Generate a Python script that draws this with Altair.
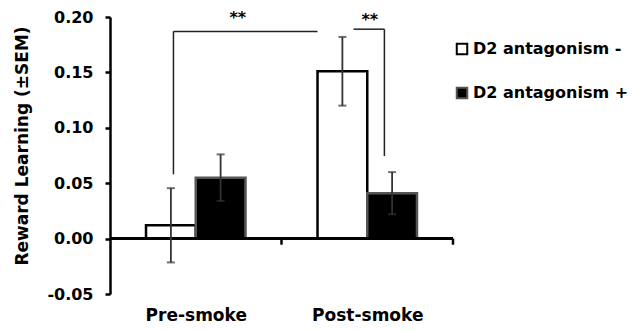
import altair as alt
import pandas as pd

# ---- data ----
categories = ["Pre-smoke", "Post-smoke"]
conditions = ["D2 antagonism -", "D2 antagonism +"]
mean_minus = [0.012, 0.151]
mean_plus = [0.055, 0.041]
sem_minus = [0.0335, 0.031]
sem_plus = [0.021, 0.019]
y_ticks = [-0.05, 0.0, 0.05, 0.10, 0.15, 0.20]

# significance brackets, x in group units (each category spans 1 unit)
bracket_x = [0.37, 0.37, 1.42, 1.60]
bracket_x2 = [0.37, 1.21, 1.60, 1.60]
bracket_y = [0.058, 0.187, 0.189, 0.0745]
bracket_y2 = [0.187, 0.187, 0.189, 0.189]
star_x = [0.745, 1.515]
star_y = [0.199, 0.197]
star_text = ["**", "**"]
group_edges = [1.0, 2.0]

FONT = "DejaVu Sans"
BW = 0.29  # bar width as a fraction of a category unit

rows = []
for i, cat in enumerate(categories):
    for j, (cond, m, s) in enumerate(
        [(conditions[0], mean_minus[i], sem_minus[i]), (conditions[1], mean_plus[i], sem_plus[i])]
    ):
        x0 = i + 0.5 + (j - 1) * BW
        rows.append(dict(cat=cat, cond=cond, x0=x0, x1=x0 + BW, xc=x0 + BW / 2,
                         mean=m, lo=m - s, hi=m + s))
df = pd.DataFrame(rows)
brackets = pd.DataFrame(dict(x=bracket_x, x2=bracket_x2, y=bracket_y, y2=bracket_y2))
stars = pd.DataFrame(dict(x=star_x, y=star_y, t=star_text))
edges = pd.DataFrame(dict(x=group_edges))

xscale = alt.Scale(domain=[0, 2], nice=False, zero=False)
yscale = alt.Scale(domain=[-0.05, 0.20], nice=False)

x_axis = alt.Axis(
    title=None, values=[0.5, 1.5],
    labelExpr="datum.value < 1 ? '" + categories[0] + "' : '" + categories[1] + "'",
    domain=False, ticks=False, grid=False, labelPadding=13,
    labelFont=FONT, labelFontSize=17, labelFontWeight="bold", labelColor="black",
)
y_axis = alt.Axis(
    title="Reward Learning (±SEM)", values=y_ticks, grid=False,
    labelExpr="datum.value < 0 ? '-' + format(-datum.value, '.2f') : format(datum.value, '.2f')",
    domainColor="black", domainWidth=2.5, tickColor="black", tickWidth=2.5, tickSize=5,
    labelPadding=12, labelFont=FONT, labelFontSize=16, labelFontWeight="bold", labelColor="black",
    titleFont=FONT, titleFontSize=17, titleFontWeight="bold", titleColor="black",
    titleAngle=-90, titleX=-88, titleY=128.5, titleAlign="center", titleBaseline="middle",
)

bars = alt.Chart(df).mark_bar(strokeWidth=2.5).encode(
    x=alt.X("x0:Q", scale=xscale, axis=x_axis),
    x2="x1:Q",
    y=alt.Y("mean:Q", scale=yscale, axis=y_axis),
    y2=alt.datum(0),
    fill=alt.Fill("cond:N", scale=alt.Scale(domain=conditions, range=["white", "black"]),
                  legend=alt.Legend(
                      title=None, orient="none", legendX=344, legendY=24,
                      symbolType="square", symbolSize=110, symbolStrokeColor="black",
                      symbolStrokeWidth=2, labelFont=FONT, labelFontSize=16,
                      labelFontWeight="bold", labelColor="black", rowPadding=24,
                      labelOffset=3, labelLimit=400, padding=0)),
    stroke=alt.Stroke("cond:N", scale=alt.Scale(domain=conditions, range=["black", "#555555"]),
                      legend=None),
)

zero_line = alt.Chart(df).mark_rule(color="black", strokeWidth=2.5).encode(
    x=alt.datum(0), x2=alt.datum(2), y=alt.datum(0)
)
edge_ticks = alt.Chart(edges).mark_rule(color="black", strokeWidth=2.5).encode(
    x="x:Q", y=alt.datum(0), y2=alt.datum(-0.0055)
)

err = alt.Chart(df).mark_rule(color="#333333", strokeWidth=1.8).encode(
    x="xc:Q", y="lo:Q", y2="hi:Q"
)
cap_lo = alt.Chart(df).mark_tick(color="#333333", orient="horizontal", size=8, thickness=2).encode(
    x="xc:Q", y="lo:Q"
)
cap_hi = alt.Chart(df).mark_tick(color="#333333", orient="horizontal", size=8, thickness=2).encode(
    x="xc:Q", y="hi:Q"
)

br = alt.Chart(brackets).mark_rule(color="#222222", strokeWidth=1.5).encode(
    x="x:Q", x2="x2:Q", y="y:Q", y2="y2:Q"
)
st = alt.Chart(stars).mark_text(font=FONT, fontSize=16, fontWeight="bold", color="black",
                                baseline="middle").encode(
    x="x:Q", y="y:Q", text="t:N"
)

chart = alt.layer(bars, zero_line, edge_ticks, err, cap_lo, cap_hi, br, st).properties(
    width=343, height=277,
    autosize=alt.AutoSizeParams(type="none"),
    padding={"left": 102, "top": 9, "right": 177, "bottom": 29},
).configure_view(stroke=None)

chart.save("out.html", embed_options={"renderer": "svg", "actions": False})
